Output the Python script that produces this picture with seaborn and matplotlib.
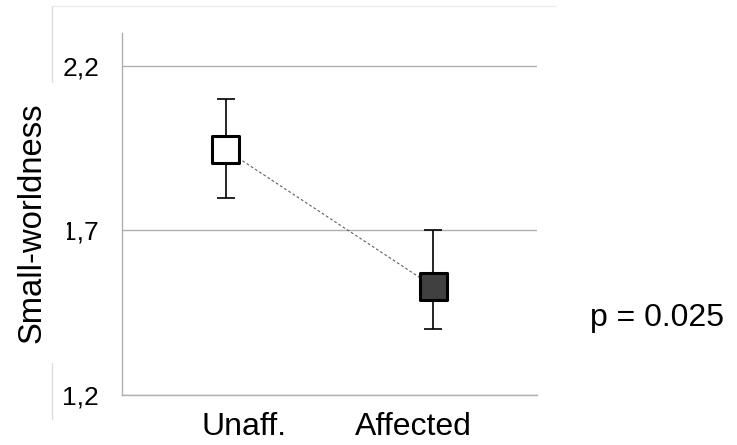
import numpy as np
import pandas as pd
import seaborn as sns
import matplotlib.pyplot as plt
from matplotlib.lines import Line2D

# values
groups = ["Unaff.", "Affected"]
means = [1.945, 1.53]
err_low = [1.80, 1.40]
err_high = [2.10, 1.70]
fill_colors = ["#ffffff", "#404040"]
y_ticks = [1.2, 1.7, 2.2]
y_tick_labels = ["1,2", "1,7", "2,2"]
y_label = "Small-worldness"
p_label = "p = 0.025"

sns.set_style("white")
plt.rcParams['font.family'] = ['Liberation Sans', 'DejaVu Sans']
plt.rcParams.update({"text.color": "black", "axes.labelcolor": "black",
                     "xtick.labelcolor": "black", "ytick.labelcolor": "black"})

df = pd.DataFrame({"group": groups, "mean": means, "lo": err_low, "hi": err_high})
grid_col = "#b0b0b0"

fig = plt.figure(figsize=(7.37, 4.45), dpi=100)
ax = fig.add_axes([122/737, 1 - 395/445, 415/737, 362/445])

# dotted connector between the group means
sns.lineplot(data=df, x="group", y="mean", ax=ax, sort=False, color="#606060",
             lw=0.8, linestyle=(0, (2.5, 2)), zorder=2)

xpos = np.arange(len(groups))
ax.errorbar(xpos, df["mean"], yerr=[df["mean"] - df["lo"], df["hi"] - df["mean"]],
            fmt="none", ecolor="black", elinewidth=1.2, capsize=6.5, capthick=1.2, zorder=3)

sns.scatterplot(data=df, x="group", y="mean", hue="group", palette=fill_colors,
                marker="s", s=380, edgecolor="black", linewidth=2.2, legend=False,
                zorder=4, ax=ax)

ax.set_xlim(-0.5, 1.5)
ax.set_ylim(1.2, 2.3)
ax.set_yticks(y_ticks, labels=y_tick_labels, fontsize=19)
# category labels sit a little inward of the markers
ax.set_xticks(xpos + np.array([0.09, -0.095]), labels=groups, fontsize=23)
ax.tick_params(axis="x", length=0, pad=12.5, labelcolor="black")
ax.tick_params(axis="y", length=6.5, width=1, color=grid_col, pad=10, labelcolor="black")
ax.grid(axis="y", color=grid_col, lw=1)
ax.set_xlabel("")
ax.set_ylabel(y_label, fontsize=23.6, color="black")
ax.yaxis.label.set_va("center")
ax.yaxis.set_label_coords(-0.217, 0.475)
ax.yaxis.label.set_bbox(dict(facecolor="white", edgecolor="none", boxstyle="square,pad=0.6"))
for s in ["top", "right"]:
    ax.spines[s].set_visible(False)
for s in ["left", "bottom"]:
    ax.spines[s].set_color(grid_col)
    ax.spines[s].set_linewidth(1)

# faint outer frame (top and left edges)
fig.add_artist(Line2D([52/737, 52/737], [1 - 6/445, 1 - 419/445], color="#dcdcdc",
                      lw=1, transform=fig.transFigure, zorder=-1))
fig.add_artist(Line2D([52/737, 556/737], [1 - 6/445, 1 - 6/445], color="#ebebeb",
                      lw=1, transform=fig.transFigure, zorder=-1))

fig.text(590/737, 1 - 326/445, p_label, fontsize=23, color="black",
         ha="left", va="baseline")

fig.savefig("out.png", dpi=100)
